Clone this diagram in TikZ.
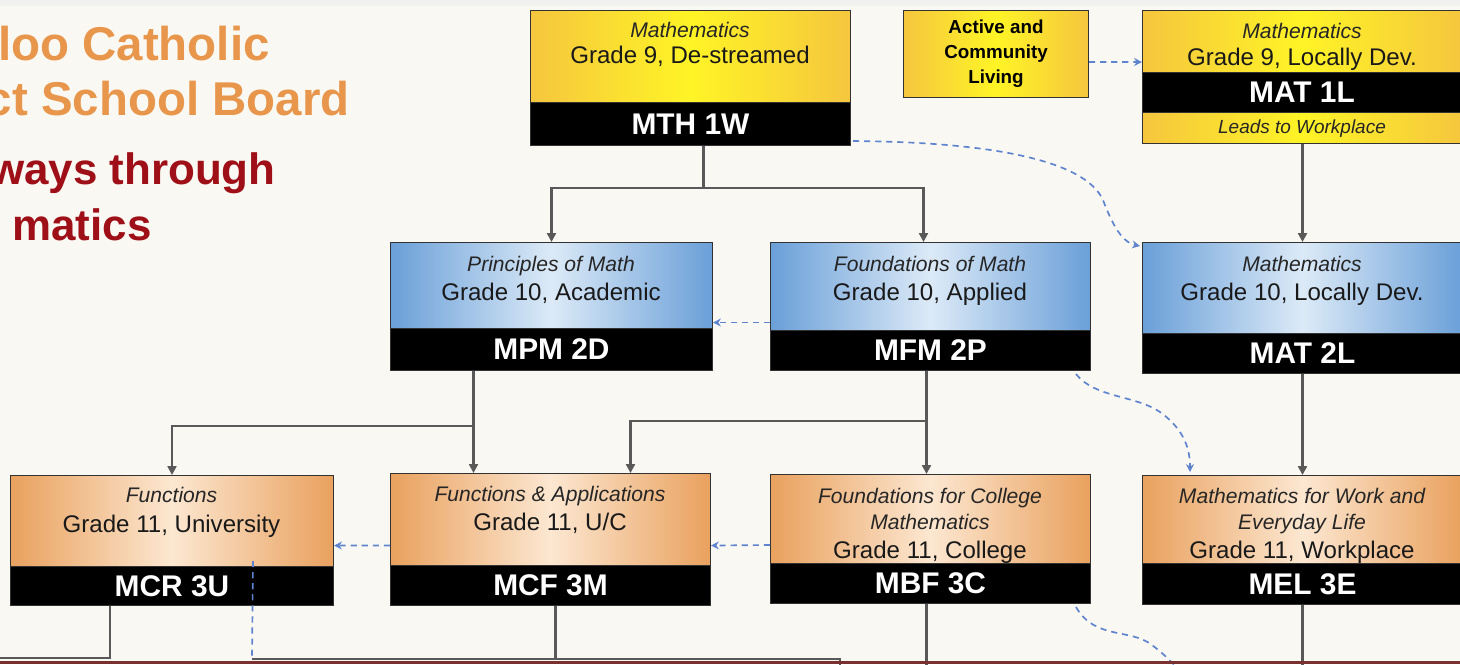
\documentclass[tikz,border=0pt]{standalone}
\usepackage{fontspec}
\setmainfont{Liberation Sans}
\usetikzlibrary{arrows.meta, positioning, calc}
\definecolor{bgcream}{HTML}{FAF8F2}
\definecolor{topgray}{HTML}{F1F1F0}
\definecolor{edgered}{HTML}{7B3030}
\definecolor{titleorange}{HTML}{E8964B}
\definecolor{titlered}{HTML}{9E0F18}
\definecolor{gold1}{HTML}{F5C63E}
\definecolor{yellow1}{HTML}{FFF426}
\definecolor{blue1}{HTML}{6A9FD8}
\definecolor{blue2}{HTML}{DCEAF7}
\definecolor{orange1}{HTML}{E9A15E}
\definecolor{orange2}{HTML}{FCE7D1}
\definecolor{pathgray}{HTML}{595959}
\definecolor{linkblue}{HTML}{5F84CF}
\tikzset{
  course/.style={draw=black!80, line width=0.6pt, minimum width=6.4cm, anchor=north west, inner sep=0pt},
  yellowfill/.style={left color=gold1, right color=gold1, middle color=yellow1},
  bluefill/.style={left color=blue1, right color=blue1, middle color=blue2},
  orangefill/.style={left color=orange1, right color=orange1, middle color=orange2},
  codebar/.style={fill=black, draw=black!80, line width=0.6pt, text=white, font=\fontsize{17}{20}\selectfont\bfseries, minimum width=6.4cm, inner sep=0pt},
  subtitle/.style={font=\fontsize{12}{14}\selectfont\itshape, text=black!85, anchor=base},
  grade/.style={font=\fontsize{13.7}{16}\selectfont, text=black!90, anchor=base},
  boardtitle/.style={font=\fontsize{27}{30}\selectfont\bfseries, text=titleorange, anchor=base east, inner sep=0pt},
  pathtitle/.style={font=\fontsize{25}{28}\selectfont\bfseries, text=titlered, anchor=base east, inner sep=0pt},
  pathline/.style={draw=pathgray, line width=1.4pt},
  pathto/.style={pathline, -{Triangle[length=5pt,width=5pt]}},
  linkline/.style={draw=linkblue, line width=0.95pt, dash pattern=on 3.5pt off 2.8pt},
  link/.style={linkline, -{Stealth[length=4.5pt,width=4.5pt]}}
}
\begin{document}
\begin{tikzpicture}[x=0.02cm, y=-0.02cm]
  % Slide
  \useasboundingbox (0,0) rectangle (1460,664);
  \fill[bgcream] (0,0) rectangle (1460,664);
  \fill[topgray] (0,0) rectangle (1460,6);
  \clip (0,0) rectangle (1460,664);

  % Title
  \node[boardtitle] (boardA) at (270,60) {loo Catholic};
  \node[boardtitle] (boardB) at (350,115) {ct School Board};
  \node[pathtitle] (pathA) at (276,184) {ways through};
  \node[pathtitle] (pathB) at (152,240) {matics};

  % Grade 9
  \node[course, yellowfill, minimum height=2.7cm] (mth) at (530,10) {};
  \node[codebar, minimum height=0.86cm, anchor=south] (mthcode) at (mth.south) {MTH 1W};
  \node[subtitle] (mthsub) at (690,37) {Mathematics};
  \node[grade] (mthgrade) at (690,63) {Grade 9, De-streamed};

  \node[course, yellowfill, minimum width=3.7cm, minimum height=1.74cm, font=\fontsize{10.7}{14.2}\selectfont\bfseries, align=center] (act) at (903,10) {Active and\\Community\\Living};

  \node[course, yellowfill, minimum height=2.66cm] (mat1) at (1142,10) {};
  \node[codebar, minimum height=0.8cm, anchor=north] (mat1code) at (1302,72) {MAT 1L};
  \node[subtitle] (mat1sub) at (1302,38) {Mathematics};
  \node[grade] (mat1grade) at (1302,65) {Grade 9, Locally Dev.};
  \node[subtitle, font=\fontsize{10.8}{13}\selectfont\itshape] (mat1lead) at (1302,133) {Leads to Workplace};

  % Grade 10
  \node[course, bluefill, minimum width=6.44cm, minimum height=2.56cm] (mpm) at (390,242) {};
  \node[codebar, minimum width=6.44cm, minimum height=0.84cm, anchor=south] (mpmcode) at (mpm.south) {MPM 2D};
  \node[subtitle] (mpmsub) at (551,271) {Principles of Math};
  \node[grade] (mpmgrade) at (551,300) {Grade 10, Academic};

  \node[course, bluefill, minimum height=2.56cm] (mfm) at (770,242) {};
  \node[codebar, minimum height=0.8cm, anchor=south] (mfmcode) at (mfm.south) {MFM 2P};
  \node[subtitle] (mfmsub) at (930,271) {Foundations of Math};
  \node[grade] (mfmgrade) at (930,300) {Grade 10, Applied};

  \node[course, bluefill, minimum height=2.62cm] (mat2) at (1142,242) {};
  \node[codebar, minimum height=0.8cm, anchor=south] (mat2code) at (mat2.south) {MAT 2L};
  \node[subtitle] (mat2sub) at (1302,271) {Mathematics};
  \node[grade] (mat2grade) at (1302,300) {Grade 10, Locally Dev.};

  % Grade 11
  \node[course, orangefill, minimum width=6.46cm, minimum height=2.6cm] (mcr) at (10,475) {};
  \node[codebar, minimum width=6.46cm, minimum height=0.78cm, anchor=south] (mcrcode) at (mcr.south) {MCR 3U};
  \node[subtitle] (mcrsub) at (171.5,502) {Functions};
  \node[grade] (mcrgrade) at (171.5,532) {Grade 11, University};

  \node[course, orangefill, minimum height=2.64cm] (mcf) at (390,473) {};
  \node[codebar, minimum height=0.8cm, anchor=south] (mcfcode) at (mcf.south) {MCF 3M};
  \node[subtitle] (mcfsub) at (550,501) {Functions \& Applications};
  \node[grade] (mcfgrade) at (550,530) {Grade 11, U/C};

  \node[course, orangefill, minimum height=2.58cm] (mbf) at (770,474) {};
  \node[codebar, minimum height=0.8cm, anchor=south] (mbfcode) at (mbf.south) {MBF 3C};
  \node[subtitle] (mbfsubA) at (930,503) {Foundations for College};
  \node[subtitle] (mbfsubB) at (930,529) {Mathematics};
  \node[grade] (mbfgrade) at (930,558) {Grade 11, College};

  \node[course, orangefill, minimum height=2.58cm] (mel) at (1142,475) {};
  \node[codebar, minimum height=0.82cm, anchor=south] (melcode) at (mel.south) {MEL 3E};
  \node[subtitle] (melsubA) at (1302,503) {Mathematics for Work and};
  \node[subtitle] (melsubB) at (1302,529) {Everyday Life};
  \node[grade] (melgrade) at (1302,558) {Grade 11, Workplace};

  % Pathways
  \coordinate (mthsplit) at ($(mth.south)+(13,42)$);
  \draw[pathline] ($(mth.south)+(13,0)$) -- (mthsplit);
  \draw[pathto] (mthsplit) -| (mpm.north);
  \draw[pathto] (mthsplit) -| ($(mfm.north)+(-7,0)$);
  \draw[pathto] (mat1.south) -- (mat2.north);
  \draw[pathto] (mat2.south) -- (mel.north);

  \coordinate (mpmsplit) at ($(mpm.south)+(-78,55)$);
  \draw[pathto] ($(mpm.south)+(-78,0)$) -- (mpmsplit |- mcf.north);
  \draw[pathto] (mpmsplit) -| (mcr.north);
  \coordinate (mfmsplit) at ($(mfm.south)+(-4,50)$);
  \draw[pathto] ($(mfm.south)+(-4,0)$) -- (mfmsplit |- mbf.north);
  \draw[pathto] (mfmsplit) -| ($(mcf.north)+(80,0)$);

  % Off the slide
  \coordinate (edgeA) at (-5,658);
  \coordinate (railA) at (252,659);
  \coordinate (railB) at (840,659);
  \coordinate (raildrop) at (840,672);
  \coordinate (mbfoff) at (1182,674);
  \draw[pathline] ($(mcr.south)+(-62,0)$) |- (edgeA);
  \draw[pathline] (railA) -- (railB) -- (raildrop);
  \draw[pathline] ($(mcf.south)+(5,0)$) -- ($(mcf.south)+(5,54)$);
  \draw[pathline] ($(mbf.south)+(-4,0)$) -- ($(mbf.south)+(-4,70)$);
  \draw[pathline] (mel.south) -- ($(mel.south)+(0,70)$);

  % Links
  \draw[link] ($(act.east)+(0,8)$) -- ($(mat1.west)+(0,-15)$);
  \draw[link] ($(mth.south east)+(2,-5)$) .. controls (990,142) and (1085,160) .. (1103,200) .. controls (1115,232) and (1125,243) .. ($(mat2.north west)+(-2,4)$);
  \draw[link] ($(mfm.west)+(0,16)$) -- ($(mpm.east)+(0,16)$);
  \draw[link] ($(mcf.west)+(0,6)$) -- ($(mcr.east)+(0,5)$);
  \draw[link] ($(mbf.west)+(0,6)$) -- ($(mcf.east)+(0,6)$);
  \draw[link] ($(mfm.south east)+(-15,3)$) .. controls (1095,398) and (1135,395) .. (1160,412) .. controls (1185,430) and (1190,450) .. ($(mel.north west)+(48,-3)$);
  \draw[linkline] ($(mcr.south east)+(-81,-45)$) -- (railA);
  \draw[linkline] ($(mbf.south east)+(-15,3)$) .. controls (1095,640) and (1130,628) .. (1152,645) .. controls (1165,655) and (1172,662) .. (mbfoff);

  % Slide edge
  \fill[edgered] (0,661) rectangle (1460,664);
\end{tikzpicture}
\end{document}
